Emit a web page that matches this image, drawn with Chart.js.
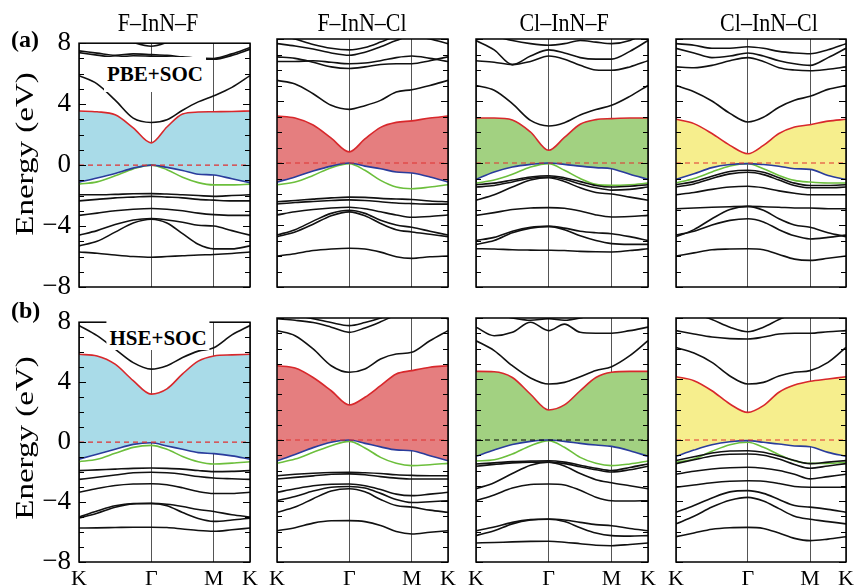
<!DOCTYPE html>
<html>
<head>
<meta charset="utf-8">
<script src="https://cdn.jsdelivr.net/npm/chart.js@4.4.1/dist/chart.umd.min.js"></script>
<style>
  body { margin: 0; background: #fff; width: 857px; height: 587px; position: relative; overflow: hidden; font-family: 'Liberation Serif', 'Times New Roman', Times, serif; }
  canvas { position: absolute; }
  .lbl { position: absolute; white-space: nowrap; line-height: 1; color: #000; z-index: 5; }
  .title { font-size: 22px; transform: translateX(-50%) scaleY(1.18); transform-origin: 50% 0; }
  .tag { font-size: 24px; font-weight: bold; }
  .method { font-size: 21px; font-weight: bold; background: #fff; transform: translateX(-50%); padding: 0 3px; }
  .ylab { font-size: 25px; font-weight: normal; transform: translate(-50%, -50%) rotate(-90deg) scaleX(1.32); }
</style>
</head>
<body>

<div class="lbl title" style="left:158px; top:10px;">F–InN–F</div>
<div class="lbl title" style="left:362px; top:10px;">F–InN–Cl</div>
<div class="lbl title" style="left:564px; top:10px;">Cl–InN–F</div>
<div class="lbl title" style="left:769px; top:10px;">Cl–InN–Cl</div>
<div class="lbl tag" style="left:11px; top:27px;">(a)</div>
<div class="lbl tag" style="left:11px; top:298px;">(b)</div>
<div class="lbl method" style="left:155px; top:57px; padding-top:7px; height:28px;">PBE+SOC</div>
<div class="lbl method" style="left:158px; top:321px; padding-top:7px; height:22px;">HSE+SOC</div>
<div class="lbl ylab" style="left:24px; top:154px;">Energy (eV)</div>
<div class="lbl ylab" style="left:24px; top:438px;">Energy (eV)</div>

<script>
// k-path K–Γ–M–K, |ΓK| = 1
const kPoints = [0, 0.25, 0.5, 0.75, 1, 1.2165, 1.433, 1.6495, 1.866, 2.116, 2.366];
const kTicks = [0, 1, 1.866, 2.366];
const kLabels = ['K', 'Γ', 'M', 'K'];
const yLabels = [-8, -4, 0, 4, 8];

// (a) PBE+SOC
const pbeFF_cbm = [3.55, 3.5, 3.3, 2.45, 1.46, 2.5, 3.35, 3.48, 3.5, 3.52, 3.55];
const pbeFF_vbm = [-1.12, -0.85, -0.55, -0.2, 0, -0.15, -0.35, -0.6, -0.65, -0.9, -1.15];
const pbeFF_vb2 = [-1.25, -1.1, -0.7, -0.25, 0, -0.3, -0.8, -1.15, -1.3, -1.3, -1.25];
const pbeFF_bands = [
  [9, 8.8, 8.5, 8.05, 7.8, 8.05, 8.5, 8.8, 9, 9, 9],
  [7.5, 7.35, 7.2, 7.3, 7.25, 7.2, 7.1, 7.02, 7.0, 7.3, 7.72],
  [7.38, 7.22, 7.08, 7.18, 7.15, 7.1, 7.02, 6.96, 6.95, 7.2, 7.6],
  [5.87, 5.33, 4.26, 3.08, 2.8, 2.97, 3.6, 4.15, 4.55, 5.1, 5.87],
  [-1.95, -1.95, -1.92, -1.88, -1.87, -1.9, -1.95, -2.0, -2.05, -2.0, -1.95],
  [-2.35, -2.25, -2.15, -2.1, -2.05, -2.1, -2.15, -2.25, -2.3, -2.35, -2.35],
  [-3.3, -3.15, -3.0, -2.9, -2.85, -2.9, -3.0, -3.15, -3.25, -3.3, -3.3],
  [-4.6, -4.3, -3.9, -3.6, -3.5, -3.6, -3.75, -3.95, -4.0, -4.3, -4.6],
  [-5.3, -5.0, -4.4, -3.8, -3.55, -3.8, -4.5, -5.2, -5.5, -5.5, -5.3],
  [-5.7, -5.78, -5.9, -6.0, -6.05, -6.0, -5.95, -5.9, -5.87, -5.8, -5.7]
];

const pbeFCl_cbm = [3.03, 2.9, 2.45, 1.6, 0.72, 1.55, 2.3, 2.62, 2.72, 2.9, 3.03];
const pbeFCl_vbm = [-1.23, -0.9, -0.52, -0.2, 0, -0.2, -0.37, -0.58, -0.65, -0.9, -1.23];
const pbeFCl_vb2 = [-1.4, -1.23, -0.8, -0.3, -0.04, -0.47, -1.12, -1.55, -1.66, -1.55, -1.4];
const pbeFCl_bands = [
  [8.3, 8.0, 7.65, 7.4, 7.3, 7.45, 7.8, 8.2, 8.5, 8.5, 8.3],
  [7.7, 7.55, 7.35, 7.1, 6.95, 7.15, 7.5, 7.9, 8.2, 8.0, 7.7],
  [6.85, 6.75, 6.5, 6.2, 6.1, 6.2, 6.35, 6.4, 6.4, 6.6, 6.85],
  [6.55, 6.55, 6.6, 6.5, 6.4, 6.45, 6.6, 6.8, 6.9, 6.75, 6.55],
  [5.33, 5.1, 4.47, 3.72, 3.46, 3.7, 4.04, 4.58, 4.73, 5.0, 5.33],
  [-2.5, -2.42, -2.33, -2.25, -2.2, -2.22, -2.28, -2.32, -2.35, -2.45, -2.5],
  [-2.65, -2.55, -2.48, -2.42, -2.38, -2.42, -2.5, -2.58, -2.62, -2.65, -2.65],
  [-3.35, -3.15, -3.0, -2.9, -2.85, -2.95, -3.15, -3.35, -3.5, -3.45, -3.35],
  [-4.65, -4.3, -3.75, -3.25, -3.05, -3.25, -3.7, -4.0, -4.15, -4.4, -4.65],
  [-4.75, -4.45, -3.95, -3.4, -3.15, -3.4, -3.9, -4.3, -4.45, -4.6, -4.75],
  [-6.0, -5.85, -5.65, -5.55, -5.5, -5.55, -5.75, -6.05, -6.15, -6.05, -6.0]
];

const pbeClF_cbm = [2.9, 2.9, 2.78, 2.0, 0.82, 1.65, 2.5, 2.8, 2.86, 2.9, 2.9];
const pbeClF_vbm = [-1.05, -0.58, -0.26, -0.09, 0, -0.09, -0.2, -0.3, -0.37, -0.73, -1.05];
const pbeClF_vb2 = [-1.3, -1.1, -0.73, -0.26, -0.04, -0.47, -1.0, -1.38, -1.44, -1.4, -1.3];
const pbeClF_bands = [
  [8.5, 8.2, 7.9, 7.7, 7.6, 7.7, 7.9, 7.8, 7.7, 7.9, 8.5],
  [7.9, 7.3, 6.35, 6.55, 6.9, 6.7, 6.3, 6.0, 5.98, 6.2, 6.6],
  [6.6, 6.5, 6.35, 6.9, 7.3, 7.1, 6.8, 6.7, 6.7, 7.2, 7.9],
  [5.0, 4.69, 3.83, 2.75, 2.39, 2.6, 3.1, 3.45, 3.72, 4.3, 5.0],
  [-1.4, -1.3, -1.1, -0.9, -0.82, -0.95, -1.2, -1.45, -1.55, -1.5, -1.4],
  [-1.55, -1.45, -1.22, -0.98, -0.9, -1.05, -1.35, -1.6, -1.75, -1.7, -1.55],
  [-2.4, -2.05, -1.55, -1.1, -0.95, -1.2, -1.6, -1.9, -2.0, -2.2, -2.4],
  [-3.38, -3.2, -3.0, -2.9, -2.88, -2.92, -3.1, -3.35, -3.48, -3.45, -3.38],
  [-5.0, -4.8, -4.4, -4.15, -4.09, -4.2, -4.4, -4.5, -4.56, -4.75, -5.0],
  [-5.25, -5.0, -4.5, -4.2, -4.09, -4.3, -4.7, -5.0, -5.2, -5.25, -5.25],
  [-5.53, -5.55, -5.6, -5.62, -5.63, -5.65, -5.7, -5.73, -5.74, -5.65, -5.53]
];

const pbeClCl_cbm = [2.82, 2.54, 1.9, 1.14, 0.6, 1.14, 1.9, 2.32, 2.47, 2.7, 2.82];
const pbeClCl_vbm = [-1.06, -0.69, -0.3, -0.1, -0.04, -0.1, -0.21, -0.37, -0.41, -0.8, -1.06];
const pbeClCl_vb2 = [-1.29, -1.0, -0.58, -0.19, -0.04, -0.37, -0.8, -1.12, -1.23, -1.29, -1.29];
const pbeClCl_bands = [
  [7.7, 7.6, 7.4, 7.4, 7.5, 7.4, 7.2, 7.1, 7.05, 7.3, 7.7],
  [7.4, 7.1, 6.8, 6.9, 7.1, 6.9, 6.6, 6.4, 6.3, 6.8, 7.4],
  [6.2, 6.15, 6.3, 6.6, 6.8, 6.55, 6.15, 6.0, 5.95, 6.05, 6.2],
  [5.0, 4.6, 4.0, 3.2, 2.65, 2.95, 3.6, 4.05, 4.3, 4.75, 5.0],
  [-1.4, -1.2, -0.85, -0.55, -0.47, -0.6, -0.95, -1.3, -1.45, -1.45, -1.4],
  [-1.55, -1.35, -1.0, -0.7, -0.6, -0.75, -1.1, -1.45, -1.6, -1.6, -1.55],
  [-2.05, -1.9, -1.7, -1.55, -1.5, -1.6, -1.8, -1.95, -2.05, -2.05, -2.05],
  [-2.95, -2.9, -2.85, -2.82, -2.8, -2.82, -2.85, -2.9, -2.9, -2.95, -2.95],
  [-4.75, -4.3, -3.6, -3.0, -2.8, -3.05, -3.6, -4.0, -4.15, -4.5, -4.75],
  [-4.65, -4.4, -4.0, -3.7, -3.6, -3.8, -4.3, -4.7, -4.9, -4.8, -4.65],
  [-6.0, -5.8, -5.6, -5.55, -5.53, -5.6, -5.9, -6.2, -6.28, -6.15, -6.0]
];

// (b) HSE+SOC
const hseFF_cbm = [5.86, 5.75, 5.2, 4.1, 3.2, 3.55, 4.55, 5.4, 5.75, 5.82, 5.86];
const hseFF_vbm = [-1.14, -0.81, -0.48, -0.15, -0.04, -0.26, -0.48, -0.7, -0.77, -0.92, -1.14];
const hseFF_vb2 = [-1.31, -1.15, -0.75, -0.35, -0.22, -0.48, -0.96, -1.31, -1.46, -1.4, -1.31];
const hseFF_bands = [
  [7.78, 7.1, 6.2, 5.3, 4.87, 5.1, 5.64, 6.07, 6.3, 7.15, 7.78],
  [-1.9, -1.85, -1.8, -1.75, -1.73, -1.75, -1.8, -1.9, -1.97, -1.95, -1.9],
  [-2.49, -2.35, -2.2, -2.05, -2.01, -2.05, -2.15, -2.3, -2.4, -2.45, -2.49],
  [-3.35, -3.1, -2.9, -2.8, -2.78, -2.85, -3.05, -3.3, -3.43, -3.43, -3.35],
  [-5.0, -4.6, -4.25, -4.1, -4.09, -4.15, -4.3, -4.5, -4.63, -4.85, -5.0],
  [-5.07, -4.75, -4.35, -4.12, -4.1, -4.25, -4.7, -5.1, -5.29, -5.2, -5.07],
  [-5.73, -5.72, -5.7, -5.68, -5.68, -5.7, -5.8, -5.9, -5.95, -5.85, -5.73]
];

const hseFCl_cbm = [4.87, 4.72, 4.1, 3.23, 2.3, 2.8, 3.56, 4.33, 4.55, 4.77, 4.87];
const hseFCl_vbm = [-1.36, -0.95, -0.5, -0.15, 0, -0.22, -0.45, -0.65, -0.7, -1.03, -1.36];
const hseFCl_vb2 = [-1.53, -1.25, -0.81, -0.37, -0.09, -0.52, -1.14, -1.53, -1.68, -1.62, -1.53];
const hseFCl_bands = [
  [8.4, 8.2, 7.95, 7.7, 7.5, 7.7, 8.0, 8.4, 8.7, 8.7, 8.4],
  [7.95, 7.85, 7.7, 7.4, 7.06, 7.35, 7.75, 8.2, 8.5, 8.3, 7.95],
  [7.17, 6.84, 5.97, 4.87, 4.44, 4.66, 5.31, 5.64, 5.75, 6.51, 7.17],
  [-2.34, -2.25, -2.18, -2.13, -2.12, -2.15, -2.2, -2.28, -2.32, -2.34, -2.34],
  [-2.56, -2.45, -2.35, -2.25, -2.22, -2.28, -2.4, -2.5, -2.56, -2.56, -2.56],
  [-3.43, -3.2, -3.0, -2.9, -2.89, -3.0, -3.25, -3.55, -3.65, -3.55, -3.43],
  [-3.98, -3.7, -3.35, -3.1, -3.05, -3.15, -3.5, -3.9, -4.1, -4.05, -3.98],
  [-4.74, -4.4, -3.85, -3.35, -3.2, -3.4, -3.9, -4.3, -4.4, -4.6, -4.74],
  [-5.95, -5.75, -5.45, -5.3, -5.29, -5.35, -5.6, -6.0, -6.16, -6.05, -5.95]
];

const hseClF_cbm = [4.5, 4.48, 4.1, 3.0, 1.97, 2.3, 3.23, 4.1, 4.44, 4.5, 4.5];
const hseClF_vbm = [-1.07, -0.66, -0.3, -0.09, 0, -0.09, -0.22, -0.33, -0.42, -0.7, -1.07];
const hseClF_vb2 = [-1.38, -1.3, -0.92, -0.37, -0.04, -0.48, -1.14, -1.53, -1.68, -1.57, -1.38];
const hseClF_bands = [
  [8.5, 8.3, 8.0, 7.85, 7.95, 7.85, 8.0, 8.3, 8.5, 8.5, 8.5],
  [7.4, 6.84, 7.06, 7.72, 7.17, 7.6, 7.06, 7.0, 7.0, 7.17, 7.4],
  [6.51, 5.86, 4.87, 4.07, 3.67, 3.78, 4.15, 4.55, 4.81, 5.53, 6.51],
  [-1.57, -1.5, -1.42, -1.38, -1.36, -1.45, -1.65, -1.85, -2.0, -1.8, -1.57],
  [-1.72, -1.6, -1.5, -1.45, -1.45, -1.55, -1.75, -1.95, -2.1, -1.95, -1.72],
  [-3.2, -2.8, -2.2, -1.65, -1.45, -1.7, -2.2, -2.6, -2.8, -3.0, -3.2],
  [-3.98, -3.6, -3.15, -2.92, -2.89, -2.95, -3.3, -3.75, -3.98, -4.0, -3.98],
  [-5.95, -5.7, -5.4, -5.22, -5.18, -5.25, -5.4, -5.55, -5.62, -5.8, -5.95],
  [-6.27, -5.95, -5.5, -5.25, -5.2, -5.35, -5.75, -6.1, -6.27, -6.3, -6.27],
  [-6.75, -6.72, -6.68, -6.65, -6.64, -6.7, -6.8, -6.9, -6.93, -6.85, -6.75]
];

const hseClCl_cbm = [4.15, 3.89, 3.23, 2.36, 1.81, 2.25, 3.13, 3.6, 3.85, 4.0, 4.15];
const hseClCl_vbm = [-1.07, -0.66, -0.31, -0.11, -0.04, -0.15, -0.26, -0.39, -0.44, -0.81, -1.07];
const hseClCl_vb2 = [-1.46, -1.25, -0.74, -0.31, -0.15, -0.48, -0.96, -1.36, -1.53, -1.53, -1.46];
const hseClCl_bands = [
  [8.6, 8.3, 7.9, 7.4, 7.1, 7.4, 7.9, 8.3, 8.6, 8.6, 8.6],
  [7.17, 6.95, 6.75, 6.65, 6.62, 6.75, 6.95, 7.0, 7.0, 7.1, 7.17],
  [6.07, 5.7, 5.09, 4.2, 3.67, 3.78, 4.2, 4.44, 4.55, 5.09, 6.07],
  [-1.35, -1.1, -0.85, -0.72, -0.7, -0.8, -1.05, -1.35, -1.55, -1.45, -1.35],
  [-1.55, -1.3, -1.05, -0.93, -0.92, -1.0, -1.25, -1.6, -1.85, -1.7, -1.55],
  [-2.25, -2.05, -1.9, -1.82, -1.79, -1.85, -2.0, -2.25, -2.55, -2.4, -2.25],
  [-3.1, -2.95, -2.8, -2.7, -2.67, -2.7, -2.85, -3.05, -3.1, -3.1, -3.1],
  [-4.74, -4.3, -3.8, -3.4, -3.32, -3.5, -3.9, -4.3, -4.4, -4.55, -4.74],
  [-5.5, -5.0, -4.4, -3.95, -3.76, -4.0, -4.5, -5.0, -5.2, -5.35, -5.5],
  [-6.34, -6.1, -5.85, -5.75, -5.73, -5.8, -6.1, -6.45, -6.6, -6.5, -6.34]
];

const fillColors = ['#a9dbe8', '#e57e7f', '#a2d181', '#f6ee8d'];

const panels = [
  { row: 0, col: 0, cbm: pbeFF_cbm, vbm: pbeFF_vbm, vb2: pbeFF_vb2, bands: pbeFF_bands, dash: '#e03030' },
  { row: 0, col: 1, cbm: pbeFCl_cbm, vbm: pbeFCl_vbm, vb2: pbeFCl_vb2, bands: pbeFCl_bands, dash: '#e03030' },
  { row: 0, col: 2, cbm: pbeClF_cbm, vbm: pbeClF_vbm, vb2: pbeClF_vb2, bands: pbeClF_bands, dash: '#e03030' },
  { row: 0, col: 3, cbm: pbeClCl_cbm, vbm: pbeClCl_vbm, vb2: pbeClCl_vb2, bands: pbeClCl_bands, dash: '#e03030' },
  { row: 1, col: 0, cbm: hseFF_cbm, vbm: hseFF_vbm, vb2: hseFF_vb2, bands: hseFF_bands, dash: '#e03030' },
  { row: 1, col: 1, cbm: hseFCl_cbm, vbm: hseFCl_vbm, vb2: hseFCl_vb2, bands: hseFCl_bands, dash: '#e03030' },
  { row: 1, col: 2, cbm: hseClF_cbm, vbm: hseClF_vbm, vb2: hseClF_vb2, bands: hseClF_bands, dash: '#000' },
  { row: 1, col: 3, cbm: hseClCl_cbm, vbm: hseClCl_vbm, vb2: hseClCl_vb2, bands: hseClCl_bands, dash: '#e03030' }
];

// plot boxes on the page
const cols = [{ left: 79, width: 171 }, { left: 277, width: 171 }, { left: 476, width: 172 }, { left: 676, width: 170 }];
const rows = [{ top: 39, height: 248 }, { top: 318, height: 244 }];
const PAD_L = 60, PAD_T = 20, PAD_R = 12, PAD_B = 25;
const FONT = "'Liberation Serif', 'Times New Roman', Times, serif";

const kEnd = kTicks[kTicks.length - 1];

function toPoints(values) {
  return kPoints.map((x, i) => ({ x: x, y: values[i] }));
}

function bandLine(values, color) {
  return {
    data: toPoints(values),
    borderColor: color,
    borderWidth: 1.6,
    pointRadius: 0,
    fill: false,
    cubicInterpolationMode: 'monotone'
  };
}

const framePlugin = {
  id: 'frame',
  afterDraw(chart) {
    const ctx = chart.ctx;
    const a = chart.chartArea;
    const y = chart.scales.y;
    ctx.save();
    ctx.strokeStyle = '#000';
    ctx.lineWidth = 1;
    y.ticks.forEach(t => {
      const py = Math.round(y.getPixelForValue(t.value)) + 0.5;
      const len = yLabels.includes(t.value) ? 7 : 5;
      ctx.beginPath();
      ctx.moveTo(a.left, py);
      ctx.lineTo(a.left + len, py);
      ctx.moveTo(a.right, py);
      ctx.lineTo(a.right - len, py);
      ctx.stroke();
    });
    ctx.lineWidth = 1.5;
    ctx.strokeRect(a.left, a.top, a.right - a.left, a.bottom - a.top);
    ctx.restore();
  }
};

function makePanel(p) {
  const col = cols[p.col];
  const row = rows[p.row];
  const canvas = document.createElement('canvas');
  canvas.width = col.width + PAD_L + PAD_R;
  canvas.height = row.height + PAD_T + PAD_B;
  canvas.style.left = (col.left - PAD_L) + 'px';
  canvas.style.top = (row.top - PAD_T) + 'px';
  document.body.appendChild(canvas);

  const datasets = [];
  datasets.push({
    data: [{ x: 0, y: 0 }, { x: kEnd, y: 0 }],
    borderColor: p.dash, borderWidth: 1.2, borderDash: [5, 4], pointRadius: 0, fill: false
  });
  p.bands.forEach(b => datasets.push(bandLine(b, '#111')));
  const vbIndex = datasets.length;
  datasets.push(bandLine(p.vbm, '#2a3c9c'));
  datasets.push(bandLine(p.vb2, '#6cbf3c'));
  const cb = bandLine(p.cbm, '#d8282c');
  cb.fill = { target: vbIndex };
  cb.backgroundColor = fillColors[p.col];
  datasets.push(cb);

  new Chart(canvas, {
    type: 'line',
    data: { datasets: datasets },
    options: {
      responsive: false,
      animation: false,
      events: [],
      layout: { padding: { left: 0, top: PAD_T, right: PAD_R, bottom: 0 } },
      plugins: { legend: { display: false }, tooltip: { enabled: false } },
      scales: {
        x: {
          type: 'linear',
          min: 0,
          max: kEnd,
          z: 1,
          afterBuildTicks: s => { s.ticks = kTicks.map(v => ({ value: v })); },
          afterFit: s => { s.height = PAD_B; },
          grid: { color: '#555', lineWidth: 1, drawTicks: false },
          border: { display: false },
          ticks: {
            display: p.row === 1,
            autoSkip: false,
            maxRotation: 0,
            padding: 4,
            color: '#000',
            font: { family: FONT, size: 22 },
            callback: (v, i) => kLabels[i]
          }
        },
        y: {
          min: -8,
          max: 8,
          afterFit: s => { s.width = PAD_L; },
          grid: { display: false, drawTicks: false },
          border: { display: false },
          ticks: {
            display: p.col === 0,
            stepSize: 1,
            autoSkip: false,
            padding: 8,
            color: '#000',
            font: { family: FONT, size: 27 },
            callback: v => yLabels.includes(v) ? (v < 0 ? '−' + Math.abs(v) : String(v)) : ''
          }
        }
      }
    },
    plugins: [framePlugin]
  });
}

panels.forEach(makePanel);
</script>
</body>
</html>
